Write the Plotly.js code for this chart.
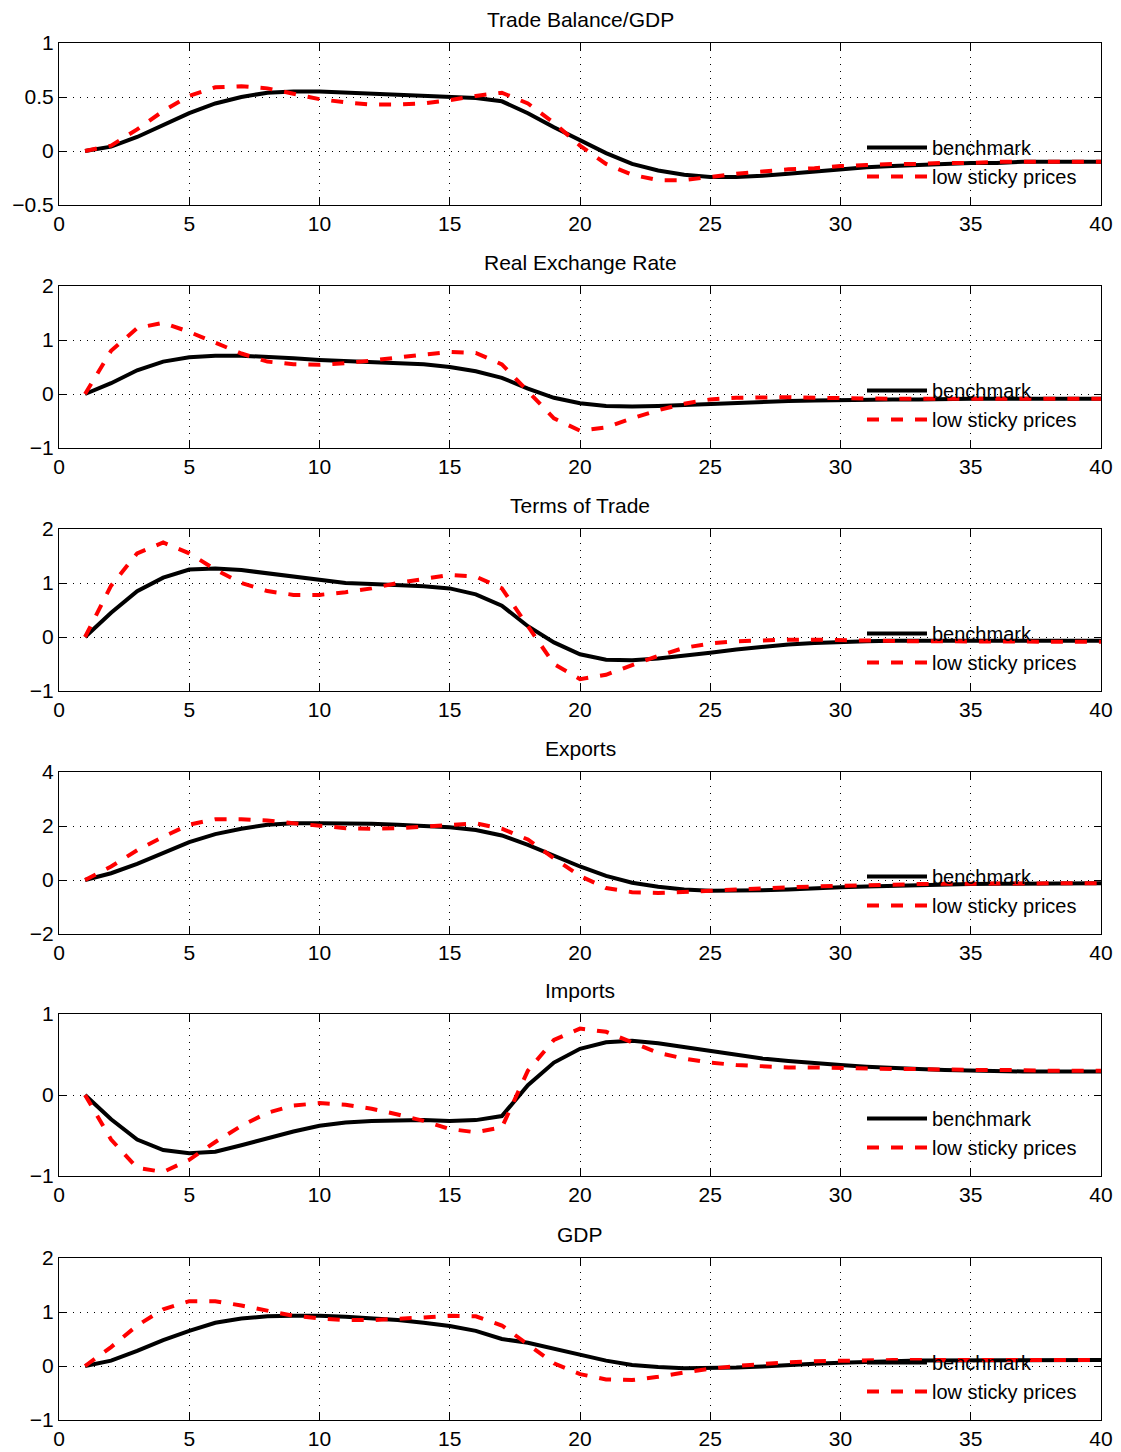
<!DOCTYPE html>
<html><head><meta charset="utf-8">
<script src="https://cdn.plot.ly/plotly-3.0.1.min.js"></script>
<style>body{margin:0;background:#fff}#chart{width:1121px;height:1452px}</style>
</head><body><div id="chart"></div>
<script>
const periods=[...Array(40)].map((_,i)=>i+1)
const titles=['Trade Balance/GDP','Real Exchange Rate','Terms of Trade','Exports','Imports','GDP']
const yRanges=[[-0.5,1],[-1,2],[-1,2],[-2,4],[-1,1],[-1,2]]
const yTicks=[[-0.5,0,0.5,1],[-1,0,1,2],[-1,0,1,2],[-2,0,2,4],[-1,0,1],[-1,0,1,2]]
const yTickText=[['\u22120.5','0','0.5','1'],['\u22121','0','1','2'],['\u22121','0','1','2'],['\u22122','0','2','4'],['\u22121','0','1'],['\u22121','0','1','2']]

const tbBench=[0,0.04,0.13,0.24,0.35,0.44,0.5,0.54,0.55,0.55,0.54,0.53,0.52,0.51,0.5,0.49,0.46,0.35,0.22,0.1,-0.02,-0.12,-0.18,-0.22,-0.24,-0.24,-0.23,-0.21,-0.19,-0.17,-0.15,-0.14,-0.13,-0.12,-0.11,-0.11,-0.1,-0.1,-0.1,-0.1]
const tbLow=[0,0.05,0.2,0.37,0.51,0.59,0.6,0.58,0.53,0.48,0.45,0.43,0.43,0.44,0.47,0.51,0.54,0.44,0.26,0.05,-0.12,-0.22,-0.27,-0.27,-0.24,-0.21,-0.19,-0.17,-0.16,-0.14,-0.13,-0.12,-0.12,-0.11,-0.11,-0.1,-0.1,-0.1,-0.1,-0.1]
const rerBench=[0,0.2,0.44,0.6,0.68,0.71,0.71,0.69,0.66,0.63,0.61,0.59,0.57,0.55,0.5,0.42,0.3,0.1,-0.07,-0.17,-0.22,-0.23,-0.22,-0.2,-0.18,-0.16,-0.14,-0.13,-0.12,-0.11,-0.1,-0.1,-0.1,-0.09,-0.09,-0.09,-0.09,-0.09,-0.09,-0.09]
const rerLow=[0,0.8,1.22,1.32,1.15,0.95,0.75,0.6,0.55,0.54,0.57,0.62,0.68,0.73,0.78,0.76,0.55,0.05,-0.45,-0.68,-0.62,-0.45,-0.3,-0.18,-0.1,-0.07,-0.06,-0.06,-0.07,-0.08,-0.08,-0.09,-0.09,-0.09,-0.09,-0.09,-0.09,-0.09,-0.09,-0.09]
const totBench=[0,0.45,0.85,1.1,1.25,1.27,1.24,1.18,1.11,1.05,1.0,0.98,0.96,0.94,0.9,0.79,0.58,0.2,-0.1,-0.32,-0.42,-0.43,-0.4,-0.35,-0.29,-0.23,-0.18,-0.14,-0.11,-0.09,-0.08,-0.07,-0.07,-0.07,-0.07,-0.07,-0.07,-0.07,-0.07,-0.07]
const totLow=[0,0.95,1.55,1.75,1.55,1.25,1.0,0.85,0.78,0.78,0.83,0.9,1.0,1.08,1.15,1.12,0.9,0.2,-0.5,-0.78,-0.7,-0.52,-0.35,-0.2,-0.12,-0.08,-0.06,-0.05,-0.05,-0.06,-0.07,-0.07,-0.08,-0.08,-0.08,-0.08,-0.08,-0.08,-0.09,-0.09]
const expBench=[0,0.25,0.6,1.0,1.4,1.7,1.9,2.05,2.1,2.1,2.1,2.08,2.05,2.0,1.95,1.85,1.65,1.3,0.9,0.5,0.15,-0.1,-0.25,-0.35,-0.4,-0.4,-0.38,-0.35,-0.3,-0.27,-0.24,-0.21,-0.19,-0.17,-0.15,-0.14,-0.13,-0.12,-0.12,-0.12]
const expLow=[0,0.5,1.1,1.6,2.05,2.25,2.25,2.2,2.1,2.0,1.92,1.9,1.92,1.98,2.05,2.1,1.9,1.5,0.8,0.15,-0.3,-0.45,-0.48,-0.45,-0.4,-0.35,-0.3,-0.27,-0.24,-0.21,-0.19,-0.17,-0.15,-0.14,-0.13,-0.13,-0.12,-0.12,-0.12,-0.12]
const impBench=[0,-0.3,-0.55,-0.68,-0.72,-0.7,-0.62,-0.53,-0.45,-0.38,-0.34,-0.32,-0.31,-0.31,-0.32,-0.31,-0.26,0.12,0.4,0.57,0.65,0.67,0.64,0.59,0.54,0.49,0.45,0.42,0.39,0.37,0.35,0.33,0.32,0.31,0.3,0.3,0.29,0.29,0.29,0.29]
const impLow=[0,-0.55,-0.9,-0.95,-0.8,-0.58,-0.38,-0.22,-0.13,-0.1,-0.12,-0.17,-0.24,-0.32,-0.42,-0.46,-0.4,0.3,0.68,0.82,0.78,0.65,0.52,0.45,0.4,0.37,0.35,0.34,0.34,0.33,0.33,0.32,0.32,0.31,0.31,0.31,0.3,0.3,0.3,0.3]
const gdpBench=[0,0.1,0.28,0.48,0.65,0.8,0.88,0.92,0.93,0.93,0.91,0.88,0.85,0.8,0.74,0.65,0.5,0.43,0.32,0.2,0.1,0.02,-0.02,-0.04,-0.04,-0.03,-0.01,0.02,0.04,0.06,0.08,0.09,0.1,0.1,0.11,0.11,0.11,0.11,0.11,0.11]
const gdpLow=[0,0.35,0.75,1.05,1.2,1.2,1.12,1.02,0.93,0.88,0.85,0.85,0.87,0.9,0.93,0.92,0.75,0.4,0.05,-0.15,-0.25,-0.26,-0.2,-0.12,-0.05,0.0,0.04,0.07,0.09,0.1,0.11,0.11,0.11,0.11,0.11,0.11,0.11,0.11,0.11,0.11]

const bench=[tbBench,rerBench,totBench,expBench,impBench,gdpBench]
const low=[tbLow,rerLow,totLow,expLow,impLow,gdpLow]

const H=1452, W=1121
const tops=[43,286,529,772,1014,1258], ph=162
const font={family:'Liberation Sans, Arial, sans-serif',size:21,color:'#000'}
const lfont={...font,size:20}
let traces=[], layout={width:W,height:H,margin:{l:0,r:0,t:0,b:0},paper_bgcolor:'#fff',plot_bgcolor:'#fff',font:font,annotations:[]}
titles.forEach((t,i)=>{
  const n=i+1, sfx=n==1?'':n
  const lg=n==1?'legend':'legend'+n
  traces.push({x:periods,y:bench[i],xaxis:'x'+sfx,yaxis:'y'+sfx,mode:'lines',name:'benchmark',line:{color:'#000',width:4},legend:lg})
  traces.push({x:periods,y:low[i],xaxis:'x'+sfx,yaxis:'y'+sfx,mode:'lines',name:'low sticky prices',line:{color:'#ff0000',width:4,dash:'dash'},legend:lg})
  const y0=1-(tops[i]+ph)/H, y1=1-tops[i]/H
  const ax={showline:true,mirror:'ticks',linecolor:'#000',linewidth:1,ticks:'inside',ticklen:7,tickcolor:'#000',
    showgrid:true,gridcolor:'#000',griddash:'1px,6px',gridwidth:1,zeroline:false,tickfont:font}
  layout['xaxis'+sfx]={...ax,domain:[59/W,1101/W],range:[0,40],tickvals:[0,5,10,15,20,25,30,35,40],anchor:'y'+sfx}
  layout['yaxis'+sfx]={...ax,domain:[y0,y1],range:yRanges[i],tickvals:yTicks[i],ticktext:yTickText[i],anchor:'x'+sfx}
  layout[lg]={x:1082/W,xanchor:'right',y:y0+9/H,yanchor:'bottom',bgcolor:'rgba(0,0,0,0)',font:lfont,tracegroupgap:0,itemwidth:60}
  layout.annotations.push({text:t,xref:'paper',yref:'paper',x:580/W,y:y1+10/H,xanchor:'center',yanchor:'bottom',showarrow:false,font:font})
})
Plotly.newPlot('chart',traces,layout,{displayModeBar:false})
</script></body></html>
